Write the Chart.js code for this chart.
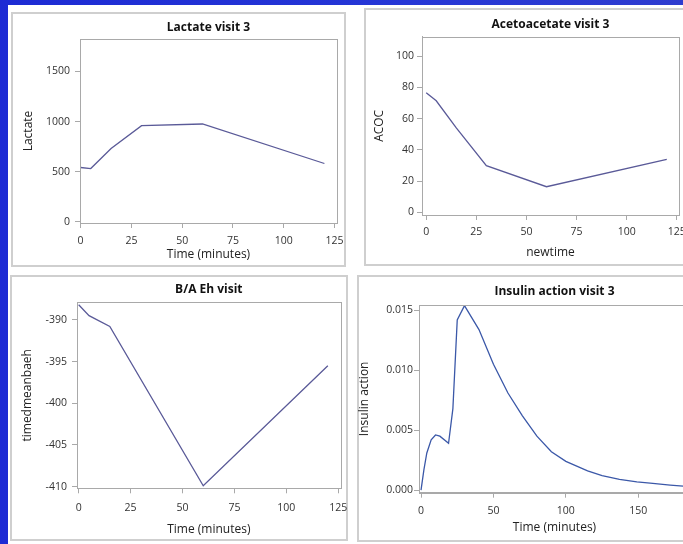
<!DOCTYPE html>
<html>
<head>
<meta charset="utf-8">
<script src="https://cdn.jsdelivr.net/npm/chart.js@4"></script>
<style>
html, body { margin: 0; padding: 0; width: 683px; height: 544px; overflow: hidden; }
body { background: linear-gradient(90deg, #1d2bd4, #2637d6 60%, #2e3ccf); position: relative; }
#sheet { position: absolute; left: 8px; top: 5px; width: 675px; height: 539px; background: #fff; }
canvas { position: absolute; }
</style>
</head>
<body>
<div id="sheet"></div>
<canvas id="lactate" style="left:11px;top:12px" width="335" height="255"></canvas>
<canvas id="acoc" style="left:364px;top:8px" width="330" height="258"></canvas>
<canvas id="eh" style="left:10px;top:275px" width="338" height="266"></canvas>
<canvas id="insulin" style="left:357px;top:275px" width="340" height="267"></canvas>
<script>
// visit 3 measurements
var lactateTime = [0, 5, 15, 30, 60, 120];
var lactateValues = [543, 533, 733, 960, 977, 583];

var acocTime = [0, 5, 15, 30, 60, 120];
var acocValues = [76.5, 71.4, 54, 29.9, 16.4, 33.9];

var ehTime = [0, 5, 15, 60, 120];
var ehValues = [-388.2, -389.5, -390.8, -409.9, -395.5];

var insulinTime = [0, 2, 4, 7, 10, 13, 19, 22, 25, 30, 40, 50, 60, 70, 80, 90, 100, 115, 125, 137, 149, 160, 172, 181, 190];
var insulinValues = [0, 0.0017, 0.0031, 0.0042, 0.0046, 0.0045, 0.0039, 0.0068, 0.0142, 0.0154, 0.0134, 0.0105, 0.0081, 0.0062, 0.0045, 0.0032, 0.0024, 0.0016, 0.0012, 0.00089, 0.00069, 0.00056, 0.00042, 0.00033, 0.00027];

// tick labels
var timeTicks = [0, 25, 50, 75, 100, 125];
var lactateTicks = [0, 500, 1000, 1500];
var acocTicks = [0, 20, 40, 60, 80, 100];
var ehTicks = [-410, -405, -400, -395, -390];
var insulinTimeTicks = [0, 50, 100, 150];
var insulinTicks = [0, 0.005, 0.010, 0.015];

var FONT = "'Open Sans', 'Noto Sans', sans-serif";
var FRAME = '#a9a9a9';

var panelFrame = {
    id: 'panelFrame',
    beforeDraw: function(chart) {
        var ctx = chart.ctx;
        ctx.save();
        ctx.fillStyle = '#ffffff';
        ctx.fillRect(0, 0, chart.width, chart.height);
        ctx.strokeStyle = '#cfcfcf';
        ctx.lineWidth = 2;
        ctx.strokeRect(1, 1, chart.width - 2, chart.height - 2);
        ctx.restore();
    },
    afterDraw: function(chart) {
        // box round the plot area
        var ctx = chart.ctx, a = chart.chartArea;
        ctx.save();
        ctx.strokeStyle = FRAME;
        ctx.lineWidth = 1;
        ctx.strokeRect(Math.round(a.left) + 0.5, Math.round(a.top) + 0.5,
            Math.round(a.right - a.left), Math.round(a.bottom - a.top));
        ctx.restore();
    }
};

function axis(o, vertical) {
    return {
        type: 'linear',
        min: o.min,
        max: o.max,
        afterBuildTicks: function(scale) {
            scale.ticks = o.ticks.map(function(v) { return { value: v }; });
        },
        afterFit: function(scale) {
            // fixed axis size, no extra room for overhanging end labels
            if (vertical) {
                scale.width = o.size;
                scale.paddingTop = 0;
                scale.paddingBottom = 0;
            } else {
                scale.height = o.size;
                scale.paddingLeft = 0;
                scale.paddingRight = 0;
            }
        },
        grid: { drawOnChartArea: false, drawTicks: true, tickLength: 5, color: FRAME },
        border: { display: true, color: FRAME },
        ticks: {
            color: '#333',
            padding: o.tickPad,
            maxRotation: 0,
            font: { family: FONT, size: 10.5 },
            callback: o.format || function(v) { return String(v); }
        },
        title: {
            display: true,
            text: o.title,
            color: '#222',
            font: { family: FONT, size: 12 },
            padding: { top: o.titlePad, bottom: o.titlePad }
        }
    };
}

function plotPanel(id, p) {
    return new Chart(document.getElementById(id), {
        type: 'line',
        data: {
            datasets: [{
                data: p.x.map(function(t, i) { return { x: t, y: p.y[i] }; }),
                borderColor: p.color,
                borderWidth: 1.3,
                pointRadius: 0,
                tension: 0,
                fill: false
            }]
        },
        options: {
            responsive: false,
            animation: false,
            devicePixelRatio: 1,
            layout: { padding: { left: 0, right: p.padRight, top: 0, bottom: 0 } },
            plugins: {
                legend: { display: false },
                tooltip: { enabled: false },
                title: {
                    display: true,
                    text: p.title,
                    fullSize: false,
                    color: '#111',
                    font: { family: FONT, size: 12, weight: 'bold' },
                    padding: p.titlePad
                }
            },
            scales: {
                x: axis(p.xAxis, false),
                y: axis(p.yAxis, true)
            }
        },
        plugins: [panelFrame]
    });
}

plotPanel('lactate', {
    title: 'Lactate visit 3', x: lactateTime, y: lactateValues, color: '#5a5a98',
    padRight: 9, titlePad: { top: 8.8, bottom: 3.8 },
    xAxis: { min: -0.3, max: 126.2, ticks: timeTicks, title: 'Time (minutes)', size: 44, tickPad: 7, titlePad: 4.8 },
    yAxis: { min: -10, max: 1824, ticks: lactateTicks, title: 'Lactate', size: 69, tickPad: 5, titlePad: 10 }
});

plotPanel('acoc', {
    title: 'Acetoacetate visit 3', x: acocTime, y: acocValues, color: '#5a5a98',
    padRight: 15, titlePad: { top: 9.8, bottom: 4.5 },
    xAxis: { min: -2.1, max: 126.1, ticks: timeTicks, title: 'newtime', size: 51, tickPad: 6, titlePad: 5.8 },
    yAxis: { min: -1.7, max: 112.4, ticks: acocTicks, title: 'ACOC', size: 58, tickPad: 3, titlePad: 8.8 }
});

plotPanel('eh', {
    title: 'B/A Eh visit', x: ehTime, y: ehValues, color: '#5a5a98',
    padRight: 7.3, titlePad: { top: 7.8, bottom: 5.1 },
    xAxis: { min: -0.8, max: 126.2, ticks: timeTicks, title: 'Time (minutes)', size: 52.7, tickPad: 8, titlePad: 3.8 },
    yAxis: { min: -410.2, max: -387.9, ticks: ehTicks, title: 'timedmeanbaeh', size: 67, tickPad: 5, titlePad: 10.8 }
});

plotPanel('insulin', {
    title: 'Insulin action visit 3', x: insulinTime, y: insulinValues, color: '#3b58a8',
    padRight: 7, titlePad: { top: 9.5, bottom: 6.1 },
    xAxis: { min: -1.4, max: 185.7, ticks: insulinTimeTicks, title: 'Time (minutes)', size: 49.3, tickPad: 7, titlePad: 6.8 },
    yAxis: { min: -0.00022, max: 0.01545, ticks: insulinTicks, title: 'Insulin action', size: 62, tickPad: 1, titlePad: 0,
        format: function(v) { return v.toFixed(3); } }
});
</script>
</body>
</html>
